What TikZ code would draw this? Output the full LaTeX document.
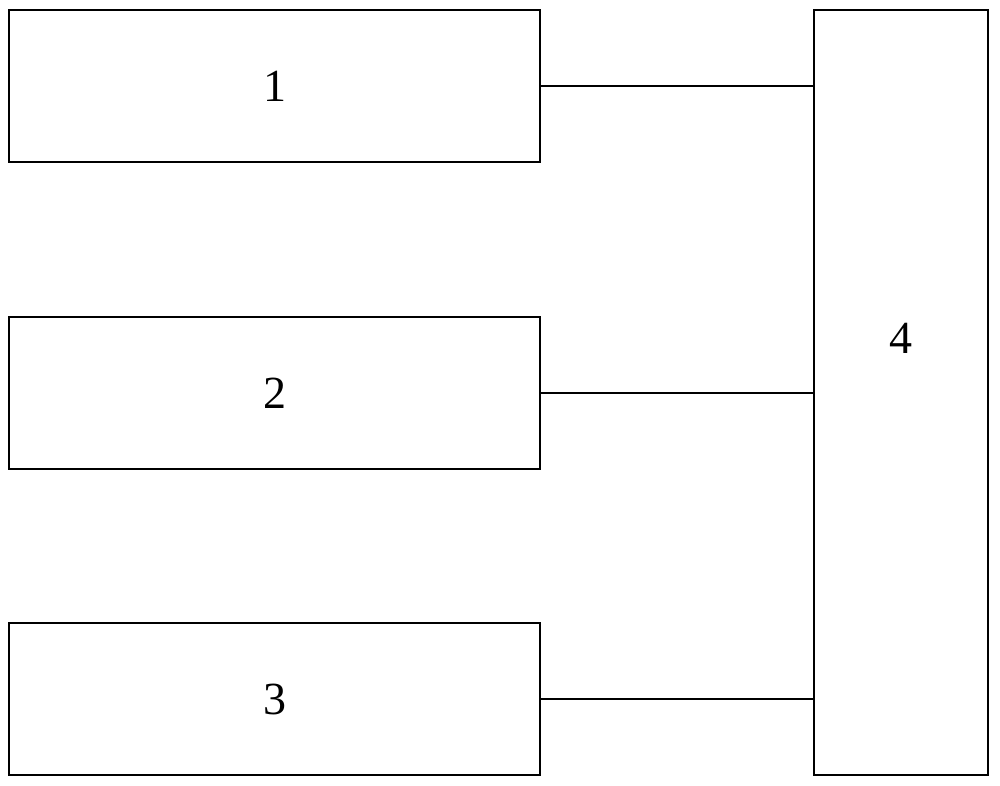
\documentclass[tikz,border=0pt]{standalone}
\usepackage{fontspec}
\setmainfont{Liberation Serif}
\begin{document}
\begin{tikzpicture}[x=1pt,y=-1pt,
  blk/.style={draw=black,line width=2pt,inner sep=0pt,font=\fontsize{46}{50}\selectfont},
  wire/.style={draw=black,line width=2pt}]
\useasboundingbox (0,0) rectangle (1000,786);
\node[blk,minimum width=531pt,minimum height=152pt] (b1) at (274.5,86) {1};
\node[blk,minimum width=531pt,minimum height=152pt] (b2) at (274.5,393) {2};
\node[blk,minimum width=531pt,minimum height=152pt] (b3) at (274.5,699) {3};
\node[blk,minimum width=174pt,minimum height=765pt] (b4) at (901,392.5) {};
\node[font=\fontsize{46}{50}\selectfont] (l4) at (901,338) {4};
\draw[wire] (b1.east) -- (b1.east -| b4.west);
\draw[wire] (b2.east) -- (b2.east -| b4.west);
\draw[wire] (b3.east) -- (b3.east -| b4.west);
\end{tikzpicture}
\end{document}
